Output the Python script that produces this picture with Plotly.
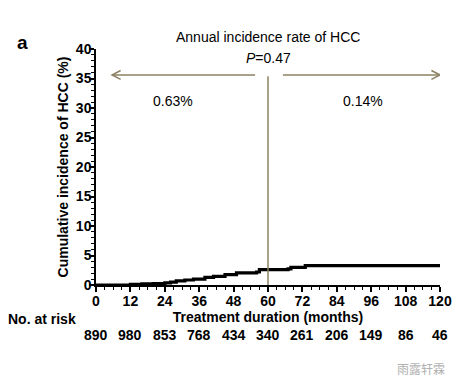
import plotly.graph_objects as go

# Data
months = [0, 12, 16, 20, 24, 26, 28, 31, 34, 38, 41, 45, 49, 56, 57, 67, 68, 73, 120]
cum_inc = [0, 0.1, 0.2, 0.25, 0.35, 0.5, 0.7, 0.85, 1.0, 1.3, 1.45, 1.75, 2.05, 2.2, 2.6, 2.75, 3.0, 3.3, 3.3]
risk_times = [0, 12, 24, 36, 48, 60, 72, 84, 96, 108, 120]
at_risk = [890, 980, 853, 768, 434, 340, 261, 206, 149, 86, 46]
rate_before = "0.63%"
rate_after = "0.14%"
p_value = "0.47"

FONT = "Liberation Sans, Arial, sans-serif"
OLIVE = "#8b8263"

fig = go.Figure()
fig.add_trace(go.Scatter(x=months, y=cum_inc, mode="lines", line=dict(color="black", width=3.2, shape="hv"),
                         hoverinfo="skip", showlegend=False, cliponaxis=False))

arrow_y = 35.6
shapes = [
    dict(type="line", xref="x", yref="y", x0=60, x1=60, y0=0, y1=35.4, line=dict(color=OLIVE, width=1.5)),
    dict(type="line", xref="x", yref="y", x0=5.6, x1=55.5, y0=arrow_y, y1=arrow_y, line=dict(color=OLIVE, width=1.5)),
    dict(type="line", xref="x", yref="y", x0=65.2, x1=120, y0=arrow_y, y1=arrow_y, line=dict(color=OLIVE, width=1.5)),
    dict(type="path", xref="x", yref="y",
         path=f"M 8.6,{arrow_y+0.75} L 5.6,{arrow_y} L 8.6,{arrow_y-0.75}", line=dict(color=OLIVE, width=1.5)),
    dict(type="path", xref="x", yref="y",
         path=f"M 117,{arrow_y+0.75} L 120,{arrow_y} L 117,{arrow_y-0.75}", line=dict(color=OLIVE, width=1.5)),
]

annotations = [
    dict(text="<b>a</b>", xref="paper", yref="paper", x=-0.235, y=1.026, xanchor="left", yanchor="middle",
         showarrow=False, font=dict(family=FONT, size=19, color="black")),
    dict(text="Annual incidence rate of HCC", xref="x", yref="paper", x=60, y=1.051, showarrow=False,
         font=dict(family=FONT, size=14, color="black"), yanchor="middle"),
    dict(text=f"<i>P</i>={p_value}", xref="x", yref="y", x=60, y=38.4, showarrow=False,
         font=dict(family=FONT, size=14, color="black"), yanchor="middle"),
    dict(text=rate_before, xref="x", yref="y", x=27, y=31.2, showarrow=False,
         font=dict(family=FONT, size=14, color="black"), yanchor="middle"),
    dict(text=rate_after, xref="x", yref="y", x=93, y=31.2, showarrow=False,
         font=dict(family=FONT, size=14, color="black"), yanchor="middle"),
    dict(text="<b>No. at risk</b>", xref="paper", yref="paper", x=-0.262, y=-0.146, xanchor="left",
         yanchor="middle", showarrow=False, font=dict(family=FONT, size=14, color="black")),
    dict(text="雨露轩霖", xref="paper", yref="paper", x=1.02, y=-0.352, xanchor="right", yanchor="middle",
         showarrow=False, font=dict(family="Noto Sans CJK SC", size=12, color="#b0b0b0")),
]
for t, n in zip(risk_times, at_risk):
    annotations.append(dict(text=f"<b>{n}</b>", xref="x", yref="paper", x=t, y=-0.212, yanchor="middle",
                            showarrow=False, font=dict(family=FONT, size=14, color="black")))

fig.update_layout(
    width=461, height=388,
    margin=dict(l=96, r=21, t=49, b=103),
    paper_bgcolor="white", plot_bgcolor="white",
    shapes=shapes, annotations=annotations,
    xaxis=dict(range=[0, 120], tickvals=risk_times, showgrid=False, zeroline=False, automargin=False,
               showline=True, linecolor="black", linewidth=1.5,
               ticks="outside", ticklen=5, tickwidth=1.5, tickcolor="black", ticklabelstandoff=-3,
               minor=dict(dtick=3, ticks="outside", ticklen=3, tickwidth=1, tickcolor="black", showgrid=False),
               tickfont=dict(family=FONT, size=14, color="black", weight="bold"),
               title=dict(text="<b>Treatment duration (months)</b>", standoff=2,
                          font=dict(family=FONT, size=14, color="black"))),
    yaxis=dict(range=[0, 40], dtick=5, showgrid=False, zeroline=False, automargin=False,
               showline=True, linecolor="black", linewidth=1.5,
               ticks="outside", ticklen=5, tickwidth=1.5, tickcolor="black", ticklabelstandoff=-5,
               minor=dict(dtick=1, ticks="outside", ticklen=3, tickwidth=1, tickcolor="black", showgrid=False),
               tickfont=dict(family=FONT, size=14, color="black", weight="bold"),
               title=dict(text="<b>Cumulative incidence of HCC (%)</b>", standoff=4,
                          font=dict(family=FONT, size=14, color="black"))),
)

fig.write_html("out.html", config={"responsive": False, "displayModeBar": False},
               post_script="document.body.style.margin='0';document.body.style.overflow='hidden';")
